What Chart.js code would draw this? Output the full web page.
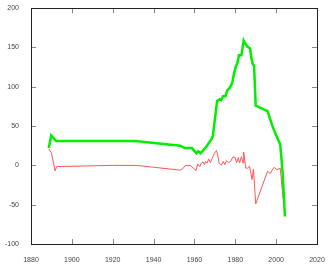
<!DOCTYPE html>
<html>
<head>
<meta charset="utf-8">
<script src="https://cdn.jsdelivr.net/npm/chart.js@4"></script>
<style>
  html, body { margin: 0; padding: 0; background: #fff; }
  #wrap { width: 330px; height: 264px; }
</style>
</head>
<body>
<div id="wrap"><canvas id="grafica"></canvas></div>
<script>
// Serie verde (gruesa)
const verdeAnios = [1888.7, 1889.9, 1892.3, 1931, 1953.1, 1955.2, 1958.8, 1961, 1961.8, 1963, 1965.9, 1968.2, 1969,
  1971.1, 1972.3, 1973.1, 1974, 1975.2, 1976, 1977.4, 1978.5, 1979.3, 1980.2, 1981.1, 1981.8, 1983, 1984.1,
  1985.1, 1986, 1987.2, 1988, 1988.5, 1989.2, 1990, 1995.8, 1997.1, 1998.2, 1999.9, 2002, 2003.2, 2004.3];
const verdeValores = [22, 38, 31, 31, 25, 22, 22, 15.5, 18, 15.5, 24, 33, 37,
  82, 84, 83, 88, 88, 95, 99, 105, 116, 125, 131, 140, 140, 159,
  154, 151, 149, 135, 129, 127, 76, 69, 58.5, 50, 39, 26.6, -10, -65];

// Serie roja (fina)
const rojoAnios = [1888.7, 1890, 1891.8, 1892.6, 1920, 1931.7, 1953, 1954.4, 1955.5, 1958, 1959.6, 1960.8, 1961.6,
  1962.6, 1963.4, 1964.2, 1964.9, 1965.5, 1966.2, 1967, 1967.8, 1968.7, 1969.8, 1970.8, 1971.5, 1972.1, 1973.1,
  1974.1, 1974.9, 1975.7, 1976.7, 1977.7, 1978.8, 1979.8, 1980.7, 1981.5, 1982.1, 1983, 1983.8, 1984.1, 1985.1,
  1986, 1987, 1988.2, 1988.9, 1990, 1995.8, 1997.1, 1998.2, 1999, 2000.4, 2002, 2003.4];
const rojoValores = [21, 16, -7, -1.5, 0, 0, -6, -4, 0, 0, -4, -6.5, 2,
  -1.5, 3, 4.5, 1, 5, 3, 8, 3.5, 9, 15.5, 19, 12, 3, 0.5,
  5, 1, 6, 3.5, 5, 10.5, 10.5, 3.5, 10, 3, 11, 3, 17, -3.5,
  -3.5, -1, -18, -4.5, -49, -7.5, -10.5, -5.5, -2.5, -5.5, -3.5, -42];

// Ejes
const ejeX = { min: 1880, max: 2020, paso: 20 };
const ejeY = { min: -100, max: 200, paso: 50 };

function puntos(anios, valores) {
  return anios.map((a, i) => ({ x: a, y: valores[i] }));
}

// Marco y marcas hacia dentro en los cuatro lados
const marcoPlugin = {
  id: 'marco',
  afterDraw(chart) {
    const ctx = chart.ctx;
    const a = chart.chartArea;
    const sx = chart.scales.x, sy = chart.scales.y;
    ctx.save();
    ctx.strokeStyle = '#888';
    ctx.lineWidth = 1;
    ctx.beginPath();
    for (let v = ejeX.min + ejeX.paso; v < ejeX.max; v += ejeX.paso) {
      const px = Math.round(sx.getPixelForValue(v)) + 0.5;
      ctx.moveTo(px, a.bottom); ctx.lineTo(px, a.bottom - 5);
      ctx.moveTo(px, a.top); ctx.lineTo(px, a.top + 5);
    }
    for (let v = ejeY.min + ejeY.paso; v < ejeY.max; v += ejeY.paso) {
      const py = Math.round(sy.getPixelForValue(v)) + 0.5;
      ctx.moveTo(a.left, py); ctx.lineTo(a.left + 5, py);
      ctx.moveTo(a.right, py); ctx.lineTo(a.right - 5, py);
    }
    ctx.stroke();
    ctx.strokeStyle = '#222';
    ctx.strokeRect(Math.round(a.left) + 0.5, Math.round(a.top) + 0.5,
      Math.round(a.right - a.left), Math.round(a.bottom - a.top));
    ctx.restore();
  }
};

new Chart(document.getElementById('grafica'), {
  type: 'line',
  data: {
    datasets: [{
      data: puntos(verdeAnios, verdeValores),
      borderColor: '#00ee00',
      borderWidth: 2.5,
      pointRadius: 0,
      tension: 0,
      fill: false
    }, {
      data: puntos(rojoAnios, rojoValores),
      borderColor: '#ff5555',
      borderWidth: 1,
      pointRadius: 0,
      tension: 0,
      fill: false
    }]
  },
  options: {
    responsive: true,
    maintainAspectRatio: false,
    animation: false,
    layout: { padding: { top: 8, right: 13, left: 0, bottom: 2 } },
    plugins: { legend: { display: false }, tooltip: { enabled: false } },
    scales: {
      x: {
        type: 'linear',
        min: ejeX.min, max: ejeX.max,
        grid: { display: false },
        border: { display: false },
        ticks: { stepSize: ejeX.paso, color: '#444', font: { family: 'Liberation Sans', size: 7 }, padding: 4, maxRotation: 0,
          callback: v => String(v) },
        afterFit(s) { s.height = 18; }
      },
      y: {
        min: ejeY.min, max: ejeY.max,
        grid: { display: false },
        border: { display: false },
        ticks: { stepSize: ejeY.paso, color: '#444', font: { family: 'Liberation Sans', size: 7 }, padding: 4,
          callback: v => String(v) },
        afterFit(s) { s.width = 31; }
      }
    }
  },
  plugins: [marcoPlugin]
});
</script>
</body>
</html>
